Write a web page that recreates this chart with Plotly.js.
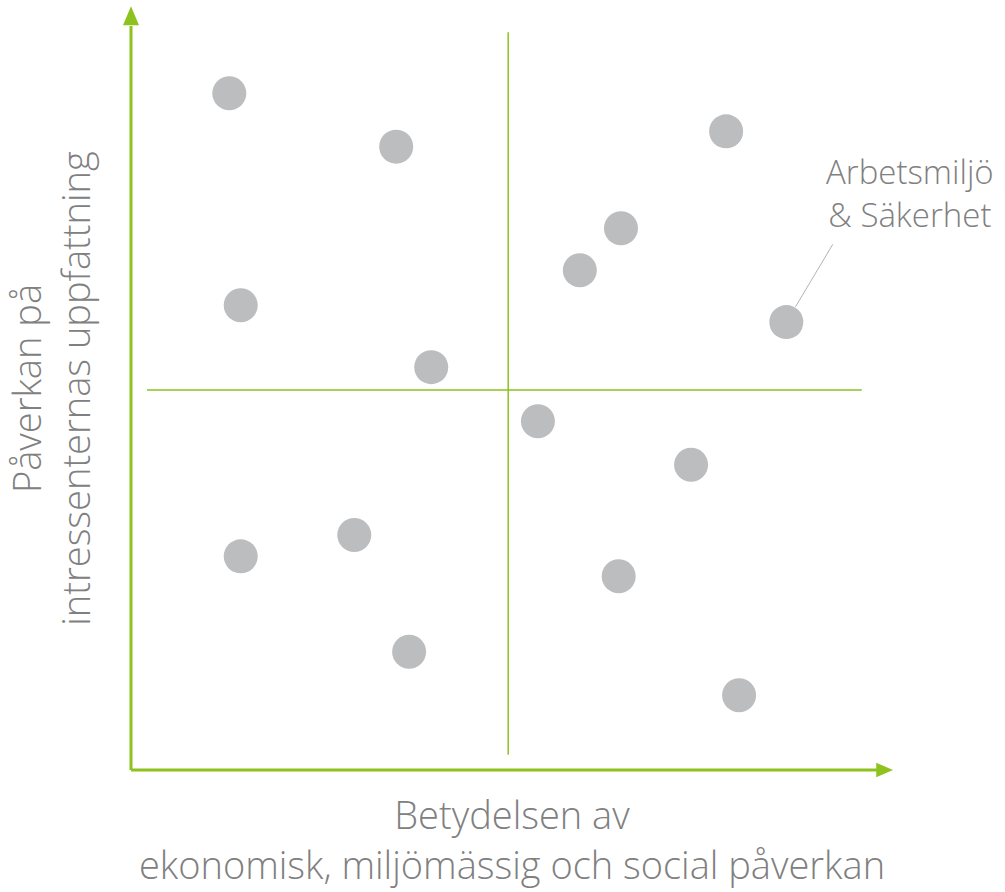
<!DOCTYPE html>
<html>
<head>
<meta charset="utf-8">
<script src="https://cdn.plot.ly/plotly-3.0.1.min.js"></script>
<style>html,body{margin:0;padding:0;background:#fff;}#chart{width:1005px;height:892px;}</style>
</head>
<body>
<div id="chart"></div>
<script>
// Data (scale 0-10 on both axes)
const xValues = [1.29, 3.48, 7.81, 6.43, 5.89, 1.44, 8.60, 3.94, 5.34, 7.35, 1.44, 2.93, 6.40, 3.65, 7.98];
const yValues = [8.87, 8.17, 8.37, 7.10, 6.55, 6.09, 5.87, 5.28, 4.57, 4.00, 2.80, 3.08, 2.54, 1.55, 0.98];
const labels = ["", "", "", "", "", "", "Arbetsmiljö & Säkerhet", "", "", "", "", "", "", "", ""];
const xTitle = "Betydelsen av<br>ekonomisk, miljömässig och social påverkan";
const yTitle = "Påverkan på<br>intressenternas uppfattning";
const calloutText = "Arbetsmiljö<br>& Säkerhet";
const midX = 4.95, midY = 4.98;

const green = "#8dc21f";
const grey = "#808080";
const fontFam = "'Open Sans', 'Noto Sans', sans-serif";

const trace = {
  type: "scatter", mode: "markers",
  x: xValues, y: yValues, text: labels,
  marker: {size: 34, color: "#bcbdbf", line: {width: 0}},
  hoverinfo: "text+x+y", showlegend: false, cliponaxis: false
};

const layout = {
  width: 1005, height: 892,
  margin: {l: 131, r: 112, t: 7, b: 122},
  paper_bgcolor: "#fff", plot_bgcolor: "#fff",
  font: {family: fontFam, color: grey},
  xaxis: {
    range: [0, 10], showgrid: false, zeroline: false, showticklabels: false, ticks: "",
    showline: false, fixedrange: true,
    title: {text: xTitle, font: {size: 38, color: grey, family: fontFam, weight: 300}, standoff: 32}
  },
  yaxis: {
    range: [0, 10], showgrid: false, zeroline: false, showticklabels: false, ticks: "",
    showline: false, fixedrange: true,
    title: {text: yTitle, font: {size: 38, color: grey, family: fontFam, weight: 300}, standoff: 30}
  },
  shapes: [
    // quadrant dividers
    {type: "line", xref: "x", yref: "y", x0: midX, x1: midX, y0: 0.2, y1: 9.67, line: {color: green, width: 1.5}},
    {type: "line", xref: "x", yref: "y", x0: 0.21, x1: 9.59, y0: midY, y1: midY, line: {color: green, width: 1.5}},
    // axes
    {type: "line", xref: "paper", yref: "paper", x0: 0, x1: 0, y0: 0, y1: 0.975, line: {color: green, width: 3}},
    {type: "line", xref: "paper", yref: "paper", x0: 0, x1: 0.98, y0: 0, y1: 0, line: {color: green, width: 3}},
    // arrowheads
    {type: "path", xref: "paper", yref: "paper", path: "M -0.0105 0.976 L 0 1.001 L 0.0105 0.976 Z", fillcolor: green, line: {color: green, width: 0}},
    {type: "path", xref: "paper", yref: "paper", path: "M 0.978 0.0095 L 1 0 L 0.978 -0.0095 Z", fillcolor: green, line: {color: green, width: 0}},
    // callout leader
    {type: "line", xref: "x", yref: "y", x0: 8.72, y0: 6.07, x1: 9.21, y1: 6.89, line: {color: "#b3b3b3", width: 1}}
  ],
  annotations: [
    {xref: "paper", yref: "paper", x: 1.0225, y: 0.756, text: calloutText, showarrow: false,
     xanchor: "center", yanchor: "middle", align: "center",
     font: {size: 33, color: grey, family: fontFam, weight: 300}}
  ]
};

Plotly.newPlot("chart", [trace], layout, {displayModeBar: false, staticPlot: true});
</script>
</body>
</html>
